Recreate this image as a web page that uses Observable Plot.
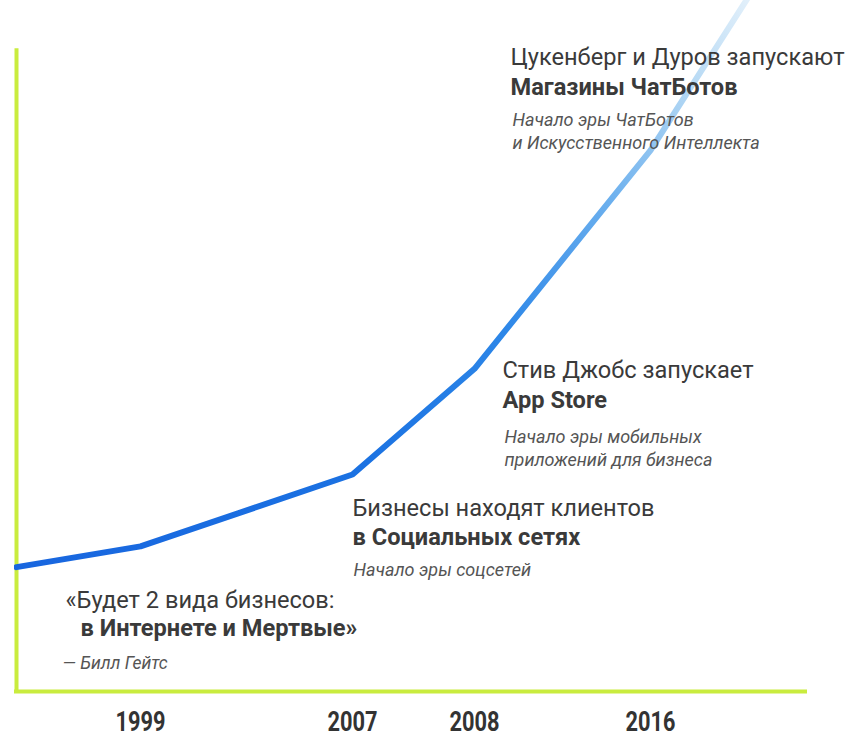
<!DOCTYPE html>
<html>
<head>
<meta charset="utf-8">
<script src="https://cdn.jsdelivr.net/npm/d3@7"></script>
<script src="https://cdn.jsdelivr.net/npm/@observablehq/plot@0.6"></script>
<style>
  html, body { margin: 0; padding: 0; background: #fff; }
  #chart svg { display: block; }
</style>
</head>
<body>
<div id="chart"></div>
<script>
// ---- data ----
const years  = [1995, 1999, 2007, 2008, 2016, 2019];
const values = [18, 21, 31.4, 46.7, 78.3, 105];
const tickYears = [1999, 2007, 2008, 2016];

const eventYears = [2016, 2008, 2007, 1999];
const headlines = [
  "Цукенберг и Дуров запускают",
  "Стив Джобс запускает",
  "Бизнесы находят клиентов",
  "«Будет 2 вида бизнесов:"
];
const boldLines = [
  "Магазины ЧатБотов",
  "App Store",
  "в Социальных сетях",
  "в Интернете и Мертвые»"
];
const notes = [
  "Начало эры ЧатБотов\nи Искусственного Интеллекта",
  "Начало эры мобильных\nприложений для бизнеса",
  "Начало эры соцсетей",
  "— Билл Гейтс"
];

// ---- layout / style ----
const axisColor = "#c9ec3e";
const textColor = "#3a3a3a";
const noteColor = "#555555";
const font = "Roboto, 'Noto Sans', sans-serif";
// per-block offsets [headline dx,dy], [bold dx,dy], [note dx,dy,fontSize]
const offsets = [
  {h: [-140, -93], b: [-140, -63], n: [-138, -41, 18]},
  {h: [28, 2],     b: [28, 32],    n: [30, 58, 18]},
  {h: [0, 34],     b: [0, 63],     n: [1, 85, 18]},
  {h: [-75, 54],   b: [-60, 82],   n: [-78, 107, 17.5]}
];

const line = years.map((year, i) => ({year, value: values[i]}));
const events = eventYears.map((year, i) => ({
  year, value: values[years.indexOf(year)],
  headline: headlines[i], bold: boldLines[i], note: notes[i]
}));

const textMarks = events.flatMap((e, i) => {
  const o = offsets[i];
  return [
    Plot.text([e], {x: "year", y: "value", text: "headline", textAnchor: "start",
      dx: o.h[0], dy: o.h[1], fontSize: 23.6, fill: textColor, fontFamily: font}),
    Plot.text([e], {x: "year", y: "value", text: "bold", textAnchor: "start",
      dx: o.b[0], dy: o.b[1], fontSize: 23.6, fontWeight: 700, fill: textColor, fontFamily: font}),
    Plot.text([e], {x: "year", y: "value", text: "note", textAnchor: "start", lineAnchor: "top",
      lineHeight: 1.28, dx: o.n[0], dy: o.n[1], fontSize: o.n[2], fontStyle: "italic",
      fill: noteColor, fontFamily: font})
  ];
});

const plot = Plot.plot({
  width: 855,
  height: 739,
  marginTop: 0,
  marginLeft: 14,
  marginRight: 48,
  marginBottom: 48,
  x: {type: "linear", domain: [1995, 1999, 2007, 2008, 2016, 2020],
      range: [16, 140, 352, 474, 650, 807], axis: null},
  y: {domain: [0, 100], axis: null},
  style: {background: "#fff"},
  marks: [
    Plot.ruleY([0], {stroke: axisColor, strokeWidth: 4}),
    Plot.ruleX([1995], {y1: 0, y2: 93, stroke: axisColor, strokeWidth: 4}),
    Plot.line(line, {x: "year", y: "value", stroke: "url(#lineGrad)", strokeWidth: 6,
      strokeLinejoin: "round", strokeLinecap: "round", clip: true}),
    ...textMarks,
    Plot.axisX(tickYears, {tickSize: 0, tickPadding: 20, tickFormat: d => String(d), label: null,
      fontSize: 28, fontWeight: 700, fill: "#333", fontFamily: font})
  ]
});

// gradient along the line, positioned with the plot's own scales
const sx = plot.scale("x"), sy = plot.scale("y");
const first = line[0], last = line[line.length - 1];
const svg = d3.select(plot);
const defs = svg.insert("defs", ":first-child");
const grad = defs.append("linearGradient")
  .attr("id", "lineGrad")
  .attr("gradientUnits", "userSpaceOnUse")
  .attr("x1", sx.apply(first.year)).attr("y1", sy.apply(first.value))
  .attr("x2", sx.apply(last.year)).attr("y2", sy.apply(last.value));
[[0, "#1866df"], [0.35, "#1b72e2"], [0.55, "#2d87e8"], [0.72, "#6cb0ee"], [0.86, "#b6d9f4"], [1, "#f2f8fd"]]
  .forEach(([o, c]) => grad.append("stop").attr("offset", o).attr("stop-color", c));

// condensed look for the year labels
svg.selectAll('g[aria-label="x-axis tick label"] text')
  .attr("textLength", 50).attr("lengthAdjust", "spacingAndGlyphs");

document.getElementById("chart").appendChild(plot);
</script>
</body>
</html>
